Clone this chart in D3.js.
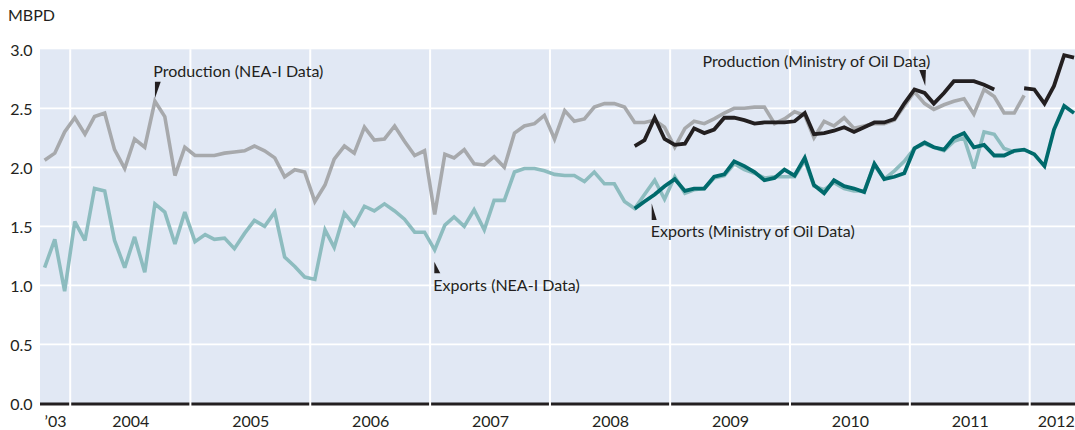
<!DOCTYPE html>
<html>
<head>
<meta charset="utf-8">
<script src="https://cdn.jsdelivr.net/npm/d3@7"></script>
<style>
  html, body { margin: 0; padding: 0; background: #ffffff; }
  svg { display: block; font-family: Lato, "Open Sans", sans-serif; }
</style>
</head>
<body>
<svg id="chart" width="1075" height="430"></svg>
<script>
// Monthly oil production and exports, million barrels per day (MBPD)

// NEA-I series begin in October 2003
const neaStart = "2003-10";
const productionNEA = [
  2.06, 2.12, 2.30,
  2.42, 2.28, 2.43, 2.46, 2.15, 1.99, 2.24, 2.17, 2.56, 2.43, 1.93, 2.17,
  2.10, 2.10, 2.10, 2.12, 2.13, 2.14, 2.18, 2.14, 2.08, 1.92, 1.98, 1.96,
  1.71, 1.85, 2.07, 2.18, 2.12, 2.34, 2.23, 2.24, 2.35, 2.22, 2.10, 2.14,
  1.60, 2.11, 2.08, 2.15, 2.03, 2.02, 2.09, 2.00, 2.29, 2.35, 2.37, 2.44,
  2.24, 2.48, 2.39, 2.41, 2.51, 2.54, 2.54, 2.51, 2.38, 2.38, 2.40, 2.34,
  2.17, 2.33, 2.39, 2.37, 2.41, 2.46, 2.50, 2.50, 2.51, 2.51, 2.37, 2.41,
  2.47, 2.44, 2.25, 2.39, 2.35, 2.42, 2.33, 2.35, 2.37, 2.37, 2.40, 2.52,
  2.64, 2.54, 2.49, 2.53, 2.56, 2.58, 2.45, 2.66, 2.60, 2.46, 2.46, 2.61
];
const exportsNEA = [
  1.15, 1.39, 0.95,
  1.54, 1.38, 1.82, 1.80, 1.38, 1.15, 1.41, 1.11, 1.69, 1.62, 1.35, 1.62,
  1.37, 1.43, 1.39, 1.40, 1.31, 1.44, 1.55, 1.50, 1.62, 1.24, 1.16, 1.07,
  1.05, 1.47, 1.32, 1.61, 1.51, 1.67, 1.63, 1.69, 1.63, 1.56, 1.45, 1.45,
  1.30, 1.51, 1.58, 1.50, 1.64, 1.47, 1.72, 1.72, 1.96, 1.99, 1.99, 1.97,
  1.94, 1.93, 1.93, 1.88, 1.96, 1.86, 1.86, 1.71, 1.65, 1.77, 1.89, 1.73,
  1.92, 1.78, 1.81, 1.82, 1.91, 1.93, 2.03, 1.98, 1.95, 1.91, 1.92, 1.92,
  1.92, 2.06, 1.84, 1.81, 1.87, 1.82, 1.80, 1.80, 2.02, 1.90, 1.97, 2.05,
  2.16, 2.20, 2.17, 2.14, 2.22, 2.25, 1.99, 2.30, 2.28, 2.16, 2.13
];

// Ministry of Oil series begin in September 2008 (null = month not reported)
const ministryStart = "2008-09";
const productionMinistry = [
  2.18, 2.23, 2.42, 2.24,
  2.19, 2.20, 2.33, 2.29, 2.32, 2.42, 2.42, 2.40, 2.37, 2.38, 2.38, 2.38,
  2.39, 2.46, 2.28, 2.29, 2.31, 2.34, 2.30, 2.34, 2.38, 2.38, 2.41, 2.54,
  2.66, 2.63, 2.54, 2.63, 2.73, 2.73, 2.73, 2.70, 2.66, null, null, 2.67,
  2.66, 2.54, 2.69, 2.95, 2.93
];
const exportsMinistry = [
  1.65, 1.71, 1.77, 1.84,
  1.90, 1.80, 1.82, 1.82, 1.92, 1.94, 2.05, 2.01, 1.96, 1.89, 1.91, 1.98,
  1.93, 2.08, 1.85, 1.78, 1.89, 1.84, 1.82, 1.79, 2.03, 1.90, 1.92, 1.95,
  2.16, 2.21, 2.17, 2.15, 2.25, 2.29, 2.17, 2.19, 2.10, 2.10, 2.14, 2.15,
  2.11, 2.01, 2.32, 2.52, 2.46
];

const yTicks = [0, 0.5, 1, 1.5, 2, 2.5, 3];
const yearTicks = [2004, 2005, 2006, 2007, 2008, 2009, 2010, 2011, 2012];
const yearLabels = ["\u201903", "2004", "2005", "2006", "2007", "2008", "2009", "2010", "2011", "2012"];
const unitLabel = "MBPD";

// ---------------------------------------------------------------------------
const svg = d3.select("#chart");
const W = 1075;
const ink = "#231f20";
const plotBg = "#e1e8f4";
const colors = {
  prodNEA: "#a7a9ac",
  expNEA: "#8dbcbf",
  prodMin: "#231f20",
  expMin: "#006a6c"
};

const parseMonth = d3.timeParse("%Y-%m");
const x = d3.scaleTime()
  .domain([new Date(2003, 9, 1), new Date(2012, 0, 1)])
  .range([40, 1029.7]);
const plotLeft = x(new Date(2003, 9, 1));
const plotRight = x(new Date(2012, 5, 8));

const y = d3.scaleLinear().domain([0, 3]).range([403.3, 49.3]);

// attach mid-month dates to a series
function toPoints(start, values) {
  const m0 = parseMonth(start);
  return values.map((v, i) => ({
    date: d3.timeDay.offset(d3.timeMonth.offset(m0, i), 14),
    v: v
  }));
}
const sProdNEA = toPoints(neaStart, productionNEA);
const sExpNEA = toPoints(neaStart, exportsNEA);
const sProdMin = toPoints(ministryStart, productionMinistry);
const sExpMin = toPoints(ministryStart, exportsMinistry);

// plot background
svg.append("rect")
  .attr("x", plotLeft).attr("y", y(3))
  .attr("width", W - plotLeft).attr("height", y(0) - y(3))
  .attr("fill", plotBg);

// horizontal grid
svg.append("g").selectAll("line")
  .data(yTicks.filter(d => d > 0 && d < 3))
  .join("line")
  .attr("x1", plotLeft).attr("x2", W)
  .attr("y1", d => y(d)).attr("y2", d => y(d))
  .attr("stroke", "#ffffff").attr("stroke-width", 1.8);

// baseline
svg.append("line")
  .attr("x1", plotLeft).attr("x2", W)
  .attr("y1", y(0) + 0.8).attr("y2", y(0) + 0.8)
  .attr("stroke", ink).attr("stroke-width", 3);

// year grid, cutting through the baseline
svg.append("g").selectAll("line")
  .data(yearTicks)
  .join("line")
  .attr("x1", d => x(new Date(d, 0, 1))).attr("x2", d => x(new Date(d, 0, 1)))
  .attr("y1", y(3)).attr("y2", y(0) + 2.6)
  .attr("stroke", "#ffffff").attr("stroke-width", 2);

// y axis labels
const yAxis = d3.axisLeft(y)
  .tickValues(yTicks)
  .tickFormat(d3.format(".1f"))
  .tickSize(0)
  .tickPadding(0);
svg.append("g")
  .attr("transform", "translate(32.5,1.2)")
  .call(yAxis)
  .call(g => g.select(".domain").remove())
  .call(g => g.selectAll("text")
    .attr("fill", ink)
    .style("font-family", "Lato, sans-serif")
    .style("font-size", "16px"));

// x axis labels, centred within each year's span
const bounds = [plotLeft].concat(yearTicks.map(yr => x(new Date(yr, 0, 1))), [plotRight]);
const labelDates = yearLabels.map((_, i) => x.invert((bounds[i] + bounds[i + 1]) / 2));
const xAxis = d3.axisBottom(x)
  .tickValues(labelDates)
  .tickFormat((d, i) => yearLabels[i])
  .tickSize(0)
  .tickPadding(12);
svg.append("g")
  .attr("transform", `translate(0,${y(0)})`)
  .call(xAxis)
  .call(g => g.select(".domain").remove())
  .call(g => g.selectAll("text")
    .attr("fill", ink)
    .style("font-family", "Lato, sans-serif")
    .style("font-size", "16px"));

// unit label
svg.append("text")
  .attr("x", 8).attr("y", 20.7)
  .attr("fill", ink)
  .style("font-size", "16px")
  .text(unitLabel);

// series lines
const line = d3.line()
  .defined(d => d.v != null)
  .x(d => x(d.date))
  .y(d => y(d.v));

const layers = [
  { data: sProdNEA, color: colors.prodNEA, width: 3.6 },
  { data: sExpNEA, color: colors.expNEA, width: 3.6 },
  { data: sProdMin, color: colors.prodMin, width: 3.8 },
  { data: sExpMin, color: colors.expMin, width: 3.8 }
];
svg.append("g").selectAll("path")
  .data(layers)
  .join("path")
  .attr("d", d => line(d.data))
  .attr("fill", "none")
  .attr("stroke", d => d.color)
  .attr("stroke-width", d => d.width)
  .attr("stroke-linejoin", "miter")
  .attr("stroke-miterlimit", 3)
  .attr("stroke-linecap", "butt");

// callouts: label text plus a small wedge pointing at one month of a series
function callout(point, text, opts) {
  const ax = x(point.date), ay = y(point.v);
  const g = svg.append("g");
  g.append("path")
    .attr("d", d3.line()(opts.wedge.map(([dx, dy]) => [ax + dx, ay + dy])) + "Z")
    .attr("fill", ink);
  g.append("text")
    .attr("x", ax + opts.tx).attr("y", ay + opts.ty)
    .attr("text-anchor", opts.anchor || "start")
    .attr("fill", ink)
    .style("font-size", "16px")
    .text(text);
}

callout(sProdNEA[11], "Production (NEA-I Data)", {
  wedge: [[0, -3], [0, -19.5], [5.8, -19.5]],
  tx: -1.6, ty: -23.8
});
callout(sProdMin[29], "Production (Ministry of Oil Data)", {
  wedge: [[0.6, -7], [-5.4, -23], [1.3, -23]],
  tx: 5.6, ty: -26.3, anchor: "end"
});
callout(sExpNEA[39], "Exports (NEA-I Data)", {
  wedge: [[-0.4, 11.8], [-0.4, 23.4], [5.6, 23.4]],
  tx: -1.4, ty: 40.8
});
callout(sExpMin[2], "Exports (Ministry of Oil Data)", {
  wedge: [[-3, 9], [-3, 25.6], [2, 25.6]],
  tx: -4, ty: 42.1
});
</script>
</body>
</html>
